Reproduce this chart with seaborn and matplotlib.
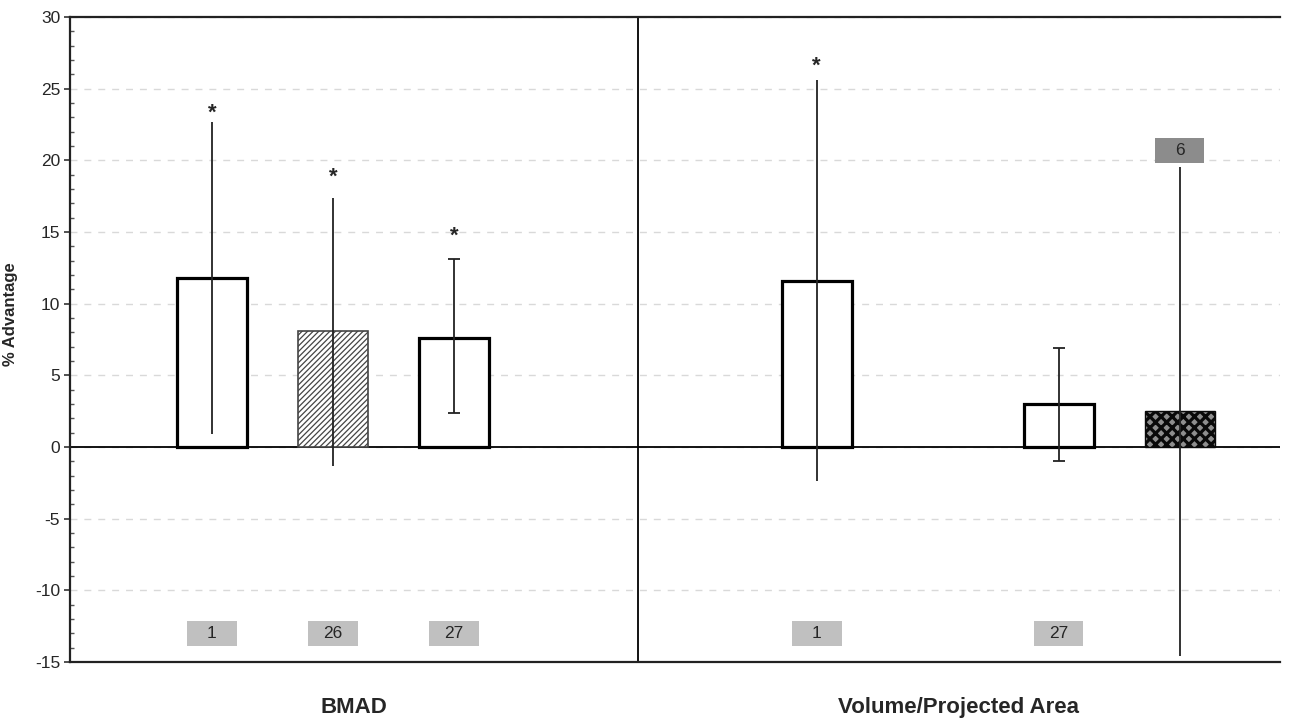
import numpy as np
import pandas as pd
import matplotlib.pyplot as plt
import matplotlib.transforms as mtransforms
from matplotlib.patches import Rectangle
from matplotlib.ticker import MultipleLocator
import seaborn as sns

# === Data ===
# x slots, blank ones are just gaps between bars
slots = ["BMAD_1", "BMAD_26", "BMAD_27", "gap_a", "gap_b",
         "VPA_1", "VPA_gap", "VPA_27", "VPA_6"]

bar_slots = ["BMAD_1", "BMAD_26", "BMAD_27", "VPA_1", "VPA_27", "VPA_6"]
advantage = [11.8, 8.1, 7.6, 11.6, 3.0, 2.5]
err_low = [0.9, -1.3, 2.35, -2.4, -1.0, -14.6]
err_high = [22.7, 17.4, 13.15, 25.6, 6.9, 19.5]
has_caps = [False, False, True, False, True, False]
fills = ["open", "hatch", "open", "open", "open", "dots"]

star_y = [23.3, 18.8, 14.7, 26.6, None, None]

n_labels = ["1", "26", "27", "1", "27", "6"]
n_label_y = [-13.0, -13.0, -13.0, -13.0, -13.0, 20.7]
n_label_color = ["#c0c0c0", "#c0c0c0", "#c0c0c0", "#c0c0c0", "#c0c0c0", "#8c8c8c"]

groups = ["BMAD", "Volume/Projected Area"]
divider = 3.52
x_range = (-1.174, 8.83)

sns.set_style("white")
plt.rcParams["font.family"] = ["Liberation Sans", "DejaVu Sans"]
plt.rcParams["axes.unicode_minus"] = False

df = pd.DataFrame({"slot": bar_slots, "advantage": advantage})

fig, ax = plt.subplots(figsize=(12.91, 7.23), dpi=100)
fig.subplots_adjust(left=0.0542, right=0.9915, bottom=0.0844, top=0.9765)

sns.barplot(data=df, x="slot", y="advantage", order=slots, width=0.58,
            color="white", errorbar=None, ax=ax, zorder=3)

# style each bar
for p in ax.patches:
    idx = int(round(p.get_x() + p.get_width() / 2))
    i = bar_slots.index(slots[idx])
    if fills[i] == "open":
        p.set_facecolor("white")
        p.set_edgecolor("black")
        p.set_linewidth(2.3)
    elif fills[i] == "hatch":
        p.set_facecolor("white")
        p.set_edgecolor("#444444")
        p.set_hatch("//////")
        p.set_hatch_linewidth(0.9)
        p.set_linewidth(1.2)
    else:
        p.set_facecolor("#8e8e8e")
        p.set_edgecolor("#0a0a0a")
        p.set_hatch("xxx")
        p.set_hatch_linewidth(2.3)
        p.set_linewidth(1.0)

xpos = np.array([slots.index(s) for s in bar_slots])
vals = np.array(advantage)
lo = vals - np.array(err_low)
hi = np.array(err_high) - vals
caps = np.array(has_caps)

ax.errorbar(xpos[caps], vals[caps], yerr=[lo[caps], hi[caps]], fmt="none",
            ecolor="#222222", elinewidth=1.3, capsize=4.3, capthick=1.3, zorder=4)
ax.errorbar(xpos[~caps], vals[~caps], yerr=[lo[~caps], hi[~caps]], fmt="none",
            ecolor="#222222", elinewidth=1.3, capsize=0, zorder=4)

# significance stars
for x, y in zip(xpos, star_y):
    if y is not None:
        ax.text(x, y, "*", ha="center", va="center", fontsize=16,
                fontweight="bold", zorder=5)

# n labels in grey boxes
box_w, box_h = 0.41, 1.74
for x, y, lab, c in zip(xpos, n_label_y, n_labels, n_label_color):
    ax.add_patch(Rectangle((x - box_w / 2, y - box_h / 2), box_w, box_h,
                           facecolor=c, edgecolor="none", zorder=5))
    ax.text(x, y, lab, ha="center", va="center", fontsize=12.5, zorder=6)

# zero line and group divider
ax.axhline(0, color="black", lw=1.3, zorder=2)
ax.axvline(divider, color="black", lw=1.3, zorder=2)

ax.set_xlim(*x_range)
ax.set_ylim(-15, 30)
ax.set_xticks([])
ax.set_xlabel("")
ax.set_yticks(range(-15, 31, 5))
ax.yaxis.set_minor_locator(MultipleLocator(1))
ax.tick_params(axis="y", which="major", direction="out", length=4, width=1.2,
               color="#333333", labelsize=12.5, pad=3, left=True)
ax.tick_params(axis="y", which="minor", direction="in", length=3, width=1,
               color="#555555", left=True)

ax.yaxis.grid(True, linestyle=(0, (5, 5)), color="#d9d9d9", lw=1)
ax.set_axisbelow(True)

ax.spines["right"].set_visible(False)
for s in ["left", "top", "bottom"]:
    ax.spines[s].set_color("#222222")
    ax.spines[s].set_linewidth(1.6)

ax.set_ylabel("% Advantage", fontsize=12, fontweight="bold")
ax.yaxis.set_label_coords(-0.043, 0.54)

# group labels under each section
trans = mtransforms.blended_transform_factory(ax.transData, ax.transAxes)
centers = [(x_range[0] + divider) / 2, (divider + x_range[1]) / 2]
for cx, g in zip(centers, groups):
    ax.text(cx, -0.071, g, transform=trans, ha="center", va="center",
            fontsize=16, fontweight="bold")

plt.savefig("out.png", dpi=100)
